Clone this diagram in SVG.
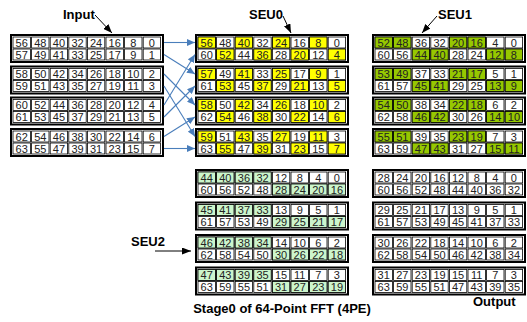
<svg xmlns="http://www.w3.org/2000/svg" xmlns:xlink="http://www.w3.org/1999/xlink" width="527" height="322" viewBox="0 0 527 322">
<style>
.t{font-family:"Liberation Sans",Arial,sans-serif;font-size:11px;fill:#222;text-anchor:middle}
.lbl{font-family:"Liberation Sans",Arial,sans-serif;font-size:13px;font-weight:bold;fill:#000}
.conn{stroke:#4a7ebb;stroke-width:1.1;fill:none;marker-end:url(#ab)}
.ann{stroke:#000;stroke-width:1;fill:none;marker-end:url(#ak)}
</style>
<defs>
<marker id="ab" markerUnits="userSpaceOnUse" markerWidth="8" markerHeight="7" refX="8" refY="3.5" orient="auto"><path d="M0,0L8,3.5L0,7z" fill="#4a7ebb"/></marker>
<marker id="ak" markerUnits="userSpaceOnUse" markerWidth="9" markerHeight="7" refX="9" refY="3.5" orient="auto"><path d="M0,0L9,3.5L0,7z" fill="#000"/></marker>
<rect id="cw" width="17.4" height="11" fill="#fff" stroke="#000" stroke-width="0.8"/>
<rect id="cy" width="17.4" height="11" fill="#ffff00" stroke="#000" stroke-width="0.8"/>
<rect id="cg" width="17.4" height="11" fill="#96c800" stroke="#000" stroke-width="0.8"/>
<rect id="cl" width="17.4" height="11" fill="#ccf5cc" stroke="#000" stroke-width="0.8"/>
<g id="row"><use href="#cw" x="2"/><use href="#cw" x="20.6"/><use href="#cw" x="39.2"/><use href="#cw" x="57.8"/><use href="#cw" x="76.4"/><use href="#cw" x="95"/><use href="#cw" x="113.6"/><use href="#cw" x="132.2"/></g>
<g id="blk"><rect width="152" height="27" fill="#fff" stroke="#000" stroke-width="2"/><use href="#row" y="2"/><use href="#row" y="14"/></g>
<g id="py"><use href="#cy" x="2" y="2"/><use href="#cy" x="39.2" y="2"/><use href="#cy" x="76.4" y="2"/><use href="#cy" x="113.6" y="2"/><use href="#cy" x="20.6" y="14"/><use href="#cy" x="57.8" y="14"/><use href="#cy" x="95" y="14"/><use href="#cy" x="132.2" y="14"/></g>
<g id="pg"><use href="#cg" x="2" y="2"/><use href="#cg" x="20.6" y="2"/><use href="#cg" x="76.4" y="2"/><use href="#cg" x="95" y="2"/><use href="#cg" x="39.2" y="14"/><use href="#cg" x="57.8" y="14"/><use href="#cg" x="113.6" y="14"/><use href="#cg" x="132.2" y="14"/></g>
<g id="pl"><use href="#cl" x="2" y="2"/><use href="#cl" x="20.6" y="2"/><use href="#cl" x="39.2" y="2"/><use href="#cl" x="57.8" y="2"/><use href="#cl" x="76.4" y="14"/><use href="#cl" x="95" y="14"/><use href="#cl" x="113.6" y="14"/><use href="#cl" x="132.2" y="14"/></g>
</defs>
<rect width="527" height="322" fill="#fff"/>

<g id="input">
<g id="in0" transform="translate(11,35)"><use href="#blk"/>
<text class="t" y="11.5"><tspan x="10.7">56</tspan><tspan x="29.3">48</tspan><tspan x="47.9">40</tspan><tspan x="66.5">32</tspan><tspan x="85.1">24</tspan><tspan x="103.7">16</tspan><tspan x="122.3">8</tspan><tspan x="140.9">0</tspan></text>
<text class="t" y="23.5"><tspan x="10.7">57</tspan><tspan x="29.3">49</tspan><tspan x="47.9">41</tspan><tspan x="66.5">33</tspan><tspan x="85.1">25</tspan><tspan x="103.7">17</tspan><tspan x="122.3">9</tspan><tspan x="140.9">1</tspan></text></g>
<g id="in1" transform="translate(11,66.5)"><use href="#blk"/>
<text class="t" y="11.5"><tspan x="10.7">58</tspan><tspan x="29.3">50</tspan><tspan x="47.9">42</tspan><tspan x="66.5">34</tspan><tspan x="85.1">26</tspan><tspan x="103.7">18</tspan><tspan x="122.3">10</tspan><tspan x="140.9">2</tspan></text>
<text class="t" y="23.5"><tspan x="10.7">59</tspan><tspan x="29.3">51</tspan><tspan x="47.9">43</tspan><tspan x="66.5">35</tspan><tspan x="85.1">27</tspan><tspan x="103.7">19</tspan><tspan x="122.3">11</tspan><tspan x="140.9">3</tspan></text></g>
<g id="in2" transform="translate(11,97.5)"><use href="#blk"/>
<text class="t" y="11.5"><tspan x="10.7">60</tspan><tspan x="29.3">52</tspan><tspan x="47.9">44</tspan><tspan x="66.5">36</tspan><tspan x="85.1">28</tspan><tspan x="103.7">20</tspan><tspan x="122.3">12</tspan><tspan x="140.9">4</tspan></text>
<text class="t" y="23.5"><tspan x="10.7">61</tspan><tspan x="29.3">53</tspan><tspan x="47.9">45</tspan><tspan x="66.5">37</tspan><tspan x="85.1">29</tspan><tspan x="103.7">21</tspan><tspan x="122.3">13</tspan><tspan x="140.9">5</tspan></text></g>
<g id="in3" transform="translate(11,129)"><use href="#blk"/>
<text class="t" y="11.5"><tspan x="10.7">62</tspan><tspan x="29.3">54</tspan><tspan x="47.9">46</tspan><tspan x="66.5">38</tspan><tspan x="85.1">30</tspan><tspan x="103.7">22</tspan><tspan x="122.3">14</tspan><tspan x="140.9">6</tspan></text>
<text class="t" y="23.5"><tspan x="10.7">63</tspan><tspan x="29.3">55</tspan><tspan x="47.9">47</tspan><tspan x="66.5">39</tspan><tspan x="85.1">31</tspan><tspan x="103.7">23</tspan><tspan x="122.3">15</tspan><tspan x="140.9">7</tspan></text></g>
</g>

<g id="seu0">
<g id="s0b0" transform="translate(196,35)"><use href="#blk"/><use href="#py"/>
<text class="t" y="11.5"><tspan x="10.7">56</tspan><tspan x="29.3">48</tspan><tspan x="47.9">40</tspan><tspan x="66.5">32</tspan><tspan x="85.1">24</tspan><tspan x="103.7">16</tspan><tspan x="122.3">8</tspan><tspan x="140.9">0</tspan></text>
<text class="t" y="23.5"><tspan x="10.7">60</tspan><tspan x="29.3">52</tspan><tspan x="47.9">44</tspan><tspan x="66.5">36</tspan><tspan x="85.1">28</tspan><tspan x="103.7">20</tspan><tspan x="122.3">12</tspan><tspan x="140.9">4</tspan></text></g>
<g id="s0b1" transform="translate(196,66.5)"><use href="#blk"/><use href="#py"/>
<text class="t" y="11.5"><tspan x="10.7">57</tspan><tspan x="29.3">49</tspan><tspan x="47.9">41</tspan><tspan x="66.5">33</tspan><tspan x="85.1">25</tspan><tspan x="103.7">17</tspan><tspan x="122.3">9</tspan><tspan x="140.9">1</tspan></text>
<text class="t" y="23.5"><tspan x="10.7">61</tspan><tspan x="29.3">53</tspan><tspan x="47.9">45</tspan><tspan x="66.5">37</tspan><tspan x="85.1">29</tspan><tspan x="103.7">21</tspan><tspan x="122.3">13</tspan><tspan x="140.9">5</tspan></text></g>
<g id="s0b2" transform="translate(196,97.5)"><use href="#blk"/><use href="#py"/>
<text class="t" y="11.5"><tspan x="10.7">58</tspan><tspan x="29.3">50</tspan><tspan x="47.9">42</tspan><tspan x="66.5">34</tspan><tspan x="85.1">26</tspan><tspan x="103.7">18</tspan><tspan x="122.3">10</tspan><tspan x="140.9">2</tspan></text>
<text class="t" y="23.5"><tspan x="10.7">62</tspan><tspan x="29.3">54</tspan><tspan x="47.9">46</tspan><tspan x="66.5">38</tspan><tspan x="85.1">30</tspan><tspan x="103.7">22</tspan><tspan x="122.3">14</tspan><tspan x="140.9">6</tspan></text></g>
<g id="s0b3" transform="translate(196,129)"><use href="#blk"/><use href="#py"/>
<text class="t" y="11.5"><tspan x="10.7">59</tspan><tspan x="29.3">51</tspan><tspan x="47.9">43</tspan><tspan x="66.5">35</tspan><tspan x="85.1">27</tspan><tspan x="103.7">19</tspan><tspan x="122.3">11</tspan><tspan x="140.9">3</tspan></text>
<text class="t" y="23.5"><tspan x="10.7">63</tspan><tspan x="29.3">55</tspan><tspan x="47.9">47</tspan><tspan x="66.5">39</tspan><tspan x="85.1">31</tspan><tspan x="103.7">23</tspan><tspan x="122.3">15</tspan><tspan x="140.9">7</tspan></text></g>
</g>

<g id="seu1">
<g id="s1b0" transform="translate(373,35)"><use href="#blk"/><use href="#pg"/>
<text class="t" y="11.5"><tspan x="10.7">52</tspan><tspan x="29.3">48</tspan><tspan x="47.9">36</tspan><tspan x="66.5">32</tspan><tspan x="85.1">20</tspan><tspan x="103.7">16</tspan><tspan x="122.3">4</tspan><tspan x="140.9">0</tspan></text>
<text class="t" y="23.5"><tspan x="10.7">60</tspan><tspan x="29.3">56</tspan><tspan x="47.9">44</tspan><tspan x="66.5">40</tspan><tspan x="85.1">28</tspan><tspan x="103.7">24</tspan><tspan x="122.3">12</tspan><tspan x="140.9">8</tspan></text></g>
<g id="s1b1" transform="translate(373,66.5)"><use href="#blk"/><use href="#pg"/>
<text class="t" y="11.5"><tspan x="10.7">53</tspan><tspan x="29.3">49</tspan><tspan x="47.9">37</tspan><tspan x="66.5">33</tspan><tspan x="85.1">21</tspan><tspan x="103.7">17</tspan><tspan x="122.3">5</tspan><tspan x="140.9">1</tspan></text>
<text class="t" y="23.5"><tspan x="10.7">61</tspan><tspan x="29.3">57</tspan><tspan x="47.9">45</tspan><tspan x="66.5">41</tspan><tspan x="85.1">29</tspan><tspan x="103.7">25</tspan><tspan x="122.3">13</tspan><tspan x="140.9">9</tspan></text></g>
<g id="s1b2" transform="translate(373,97.5)"><use href="#blk"/><use href="#pg"/>
<text class="t" y="11.5"><tspan x="10.7">54</tspan><tspan x="29.3">50</tspan><tspan x="47.9">38</tspan><tspan x="66.5">34</tspan><tspan x="85.1">22</tspan><tspan x="103.7">18</tspan><tspan x="122.3">6</tspan><tspan x="140.9">2</tspan></text>
<text class="t" y="23.5"><tspan x="10.7">62</tspan><tspan x="29.3">58</tspan><tspan x="47.9">46</tspan><tspan x="66.5">42</tspan><tspan x="85.1">30</tspan><tspan x="103.7">26</tspan><tspan x="122.3">14</tspan><tspan x="140.9">10</tspan></text></g>
<g id="s1b3" transform="translate(373,129)"><use href="#blk"/><use href="#pg"/>
<text class="t" y="11.5"><tspan x="10.7">55</tspan><tspan x="29.3">51</tspan><tspan x="47.9">39</tspan><tspan x="66.5">35</tspan><tspan x="85.1">23</tspan><tspan x="103.7">19</tspan><tspan x="122.3">7</tspan><tspan x="140.9">3</tspan></text>
<text class="t" y="23.5"><tspan x="10.7">63</tspan><tspan x="29.3">59</tspan><tspan x="47.9">47</tspan><tspan x="66.5">43</tspan><tspan x="85.1">31</tspan><tspan x="103.7">27</tspan><tspan x="122.3">15</tspan><tspan x="140.9">11</tspan></text></g>
</g>

<g id="seu2">
<g id="s2b0" transform="translate(196,170)"><use href="#blk"/><use href="#pl"/>
<text class="t" y="11.5"><tspan x="10.7">44</tspan><tspan x="29.3">40</tspan><tspan x="47.9">36</tspan><tspan x="66.5">32</tspan><tspan x="85.1">12</tspan><tspan x="103.7">8</tspan><tspan x="122.3">4</tspan><tspan x="140.9">0</tspan></text>
<text class="t" y="23.5"><tspan x="10.7">60</tspan><tspan x="29.3">56</tspan><tspan x="47.9">52</tspan><tspan x="66.5">48</tspan><tspan x="85.1">28</tspan><tspan x="103.7">24</tspan><tspan x="122.3">20</tspan><tspan x="140.9">16</tspan></text></g>
<g id="s2b1" transform="translate(196,202.5)"><use href="#blk"/><use href="#pl"/>
<text class="t" y="11.5"><tspan x="10.7">45</tspan><tspan x="29.3">41</tspan><tspan x="47.9">37</tspan><tspan x="66.5">33</tspan><tspan x="85.1">13</tspan><tspan x="103.7">9</tspan><tspan x="122.3">5</tspan><tspan x="140.9">1</tspan></text>
<text class="t" y="23.5"><tspan x="10.7">61</tspan><tspan x="29.3">57</tspan><tspan x="47.9">53</tspan><tspan x="66.5">49</tspan><tspan x="85.1">29</tspan><tspan x="103.7">25</tspan><tspan x="122.3">21</tspan><tspan x="140.9">17</tspan></text></g>
<g id="s2b2" transform="translate(196,235)"><use href="#blk"/><use href="#pl"/>
<text class="t" y="11.5"><tspan x="10.7">46</tspan><tspan x="29.3">42</tspan><tspan x="47.9">38</tspan><tspan x="66.5">34</tspan><tspan x="85.1">14</tspan><tspan x="103.7">10</tspan><tspan x="122.3">6</tspan><tspan x="140.9">2</tspan></text>
<text class="t" y="23.5"><tspan x="10.7">62</tspan><tspan x="29.3">58</tspan><tspan x="47.9">54</tspan><tspan x="66.5">50</tspan><tspan x="85.1">30</tspan><tspan x="103.7">26</tspan><tspan x="122.3">22</tspan><tspan x="140.9">18</tspan></text></g>
<g id="s2b3" transform="translate(196,267.5)"><use href="#blk"/><use href="#pl"/>
<text class="t" y="11.5"><tspan x="10.7">47</tspan><tspan x="29.3">43</tspan><tspan x="47.9">39</tspan><tspan x="66.5">35</tspan><tspan x="85.1">15</tspan><tspan x="103.7">11</tspan><tspan x="122.3">7</tspan><tspan x="140.9">3</tspan></text>
<text class="t" y="23.5"><tspan x="10.7">63</tspan><tspan x="29.3">59</tspan><tspan x="47.9">55</tspan><tspan x="66.5">51</tspan><tspan x="85.1">31</tspan><tspan x="103.7">27</tspan><tspan x="122.3">23</tspan><tspan x="140.9">19</tspan></text></g>
</g>

<g id="output">
<g id="ob0" transform="translate(373,170)"><use href="#blk"/>
<text class="t" y="11.5"><tspan x="10.7">28</tspan><tspan x="29.3">24</tspan><tspan x="47.9">20</tspan><tspan x="66.5">16</tspan><tspan x="85.1">12</tspan><tspan x="103.7">8</tspan><tspan x="122.3">4</tspan><tspan x="140.9">0</tspan></text>
<text class="t" y="23.5"><tspan x="10.7">60</tspan><tspan x="29.3">56</tspan><tspan x="47.9">52</tspan><tspan x="66.5">48</tspan><tspan x="85.1">44</tspan><tspan x="103.7">40</tspan><tspan x="122.3">36</tspan><tspan x="140.9">32</tspan></text></g>
<g id="ob1" transform="translate(373,202.5)"><use href="#blk"/>
<text class="t" y="11.5"><tspan x="10.7">29</tspan><tspan x="29.3">25</tspan><tspan x="47.9">21</tspan><tspan x="66.5">17</tspan><tspan x="85.1">13</tspan><tspan x="103.7">9</tspan><tspan x="122.3">5</tspan><tspan x="140.9">1</tspan></text>
<text class="t" y="23.5"><tspan x="10.7">61</tspan><tspan x="29.3">57</tspan><tspan x="47.9">53</tspan><tspan x="66.5">49</tspan><tspan x="85.1">45</tspan><tspan x="103.7">41</tspan><tspan x="122.3">37</tspan><tspan x="140.9">33</tspan></text></g>
<g id="ob2" transform="translate(373,235)"><use href="#blk"/>
<text class="t" y="11.5"><tspan x="10.7">30</tspan><tspan x="29.3">26</tspan><tspan x="47.9">22</tspan><tspan x="66.5">18</tspan><tspan x="85.1">14</tspan><tspan x="103.7">10</tspan><tspan x="122.3">6</tspan><tspan x="140.9">2</tspan></text>
<text class="t" y="23.5"><tspan x="10.7">62</tspan><tspan x="29.3">58</tspan><tspan x="47.9">54</tspan><tspan x="66.5">50</tspan><tspan x="85.1">46</tspan><tspan x="103.7">42</tspan><tspan x="122.3">38</tspan><tspan x="140.9">34</tspan></text></g>
<g id="ob3" transform="translate(373,267.5)"><use href="#blk"/>
<text class="t" y="11.5"><tspan x="10.7">31</tspan><tspan x="29.3">27</tspan><tspan x="47.9">23</tspan><tspan x="66.5">19</tspan><tspan x="85.1">15</tspan><tspan x="103.7">11</tspan><tspan x="122.3">7</tspan><tspan x="140.9">3</tspan></text>
<text class="t" y="23.5"><tspan x="10.7">63</tspan><tspan x="29.3">59</tspan><tspan x="47.9">55</tspan><tspan x="66.5">51</tspan><tspan x="85.1">47</tspan><tspan x="103.7">43</tspan><tspan x="122.3">39</tspan><tspan x="140.9">35</tspan></text></g>
</g>

<g id="connectors">
<line class="conn" x1="164" y1="42.5" x2="195" y2="42.5"/>
<line class="conn" x1="164" y1="54.5" x2="195" y2="74"/>
<line class="conn" x1="164" y1="74" x2="195" y2="105"/>
<line class="conn" x1="164" y1="86" x2="195" y2="136.5"/>
<line class="conn" x1="164" y1="105" x2="195" y2="54.5"/>
<line class="conn" x1="164" y1="117" x2="195" y2="86"/>
<line class="conn" x1="164" y1="136.5" x2="195" y2="117"/>
<line class="conn" x1="164" y1="148.5" x2="195" y2="148.5"/>
<line class="ann" x1="95" y1="15" x2="112" y2="33"/>
<line class="ann" x1="283" y1="16" x2="291" y2="33"/>
<line class="ann" x1="437" y1="16" x2="422" y2="33"/>
<line class="ann" x1="155" y1="251" x2="191" y2="251"/>
</g>

<g id="labels">
<text class="lbl" x="63" y="19">Input</text>
<text class="lbl" x="249" y="19">SEU0</text>
<text class="lbl" x="438" y="19">SEU1</text>
<text class="lbl" x="131" y="246">SEU2</text>
<text class="lbl" x="473" y="306">Output</text>
<text class="lbl" x="282" y="313" text-anchor="middle">Stage0 of 64-Point FFT (4PE)</text>
</g>
</svg>
